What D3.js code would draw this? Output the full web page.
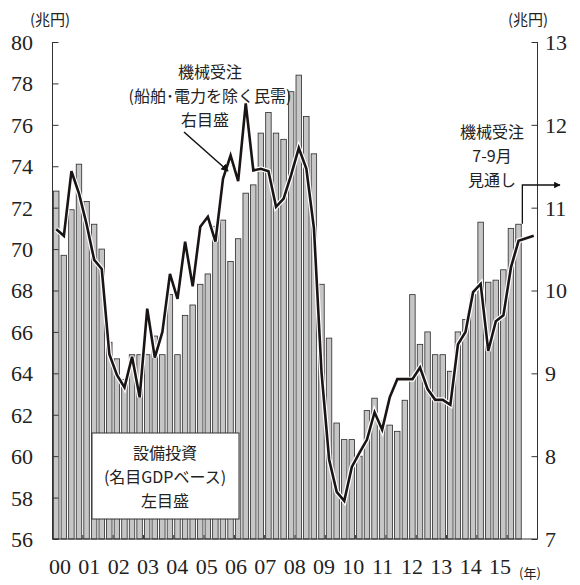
<!DOCTYPE html>
<html>
<head>
<meta charset="utf-8">
<script src="https://cdn.jsdelivr.net/npm/d3@7"></script>
<style>
  body { margin: 0; background: #fff; }
  svg text { fill: #222; }
  .num { font-family: "Liberation Serif", "Tinos", "Times New Roman", "DejaVu Serif", serif; }
  .jp { font-family: "Noto Sans CJK JP", "Noto Sans", sans-serif; }
</style>
</head>
<body>
<div id="chart"></div>
<script>
const yearLabels = ["00", "01", "02", "03", "04", "05", "06", "07", "08", "09", "10", "11", "12", "13", "14", "15"];

// 設備投資 (名目GDPベース), 兆円, 2000Q1 - 2015Q2, left axis
const capex = [
    72.8, 69.7, 71.9, 74.1,
    72.3, 71.2, 70.0, 65.5,
    64.7, 63.7, 64.9, 64.9,
    64.9, 65.8, 64.9, 67.8,
    64.9, 66.8, 67.3, 68.3,
    68.8, 71.1, 71.4, 69.4,
    70.5, 72.7, 73.1, 75.6,
    76.6, 75.6, 75.3, 77.6,
    78.4, 76.4, 74.6, 68.3,
    65.7, 61.6, 60.8, 60.8,
    60.0, 62.2, 62.8, 61.7,
    61.5, 61.2, 62.7, 67.8,
    65.4, 66.0, 64.9, 64.9,
    64.1, 66.0, 66.6, 67.8,
    71.3, 68.4, 68.5, 69.0,
    71.0, 71.2
];

// 機械受注 (船舶・電力を除く民需), 兆円, 2000Q1 - 2015Q3 (last = 7-9月見通し), right axis
const orders = [
    10.74, 10.66, 11.44, 11.17,
    10.80, 10.37, 10.26, 9.23,
    8.98, 8.83, 9.20, 8.71,
    9.78, 9.19, 9.50, 10.20,
    9.90, 10.59, 10.05, 10.77,
    10.89, 10.59, 11.35, 11.63,
    11.32, 12.26, 11.45, 11.47,
    11.44, 11.01, 11.11, 11.40,
    11.72, 11.47, 10.75, 9.01,
    7.96, 7.57, 7.46, 7.87,
    8.04, 8.20, 8.53, 8.32,
    8.71, 8.93, 8.93, 8.93,
    9.07, 8.81, 8.68, 8.68,
    8.62, 9.35, 9.50, 9.98,
    10.08, 9.27, 9.63, 9.70,
    10.28, 10.60, 10.66
];

const leftTicks = d3.range(56, 81, 2);
const rightTicks = d3.range(7, 14, 1);

const width = 580, height = 585;
const margin = { top: 42, right: 42.5, bottom: 46, left: 52.5 };

const svg = d3.select("#chart").append("svg")
    .attr("width", width)
    .attr("height", height);

const nQuarters = yearLabels.length * 4;
const x = d3.scaleLinear()
    .domain([0, nQuarters])
    .range([margin.left, width - margin.right]);
const step = x(1) - x(0);

const yL = d3.scaleLinear().domain([56, 80]).range([height - margin.bottom, margin.top]);
const yR = d3.scaleLinear().domain([7, 13]).range([height - margin.bottom, margin.top]);

// bars
svg.append("g").selectAll("rect")
    .data(capex)
    .enter()
    .append("rect")
    .attr("x", (d, i) => x(i) + 1)
    .attr("y", d => yL(d))
    .attr("width", step - 2.1)
    .attr("height", d => yL(56) - yL(d))
    .attr("fill", "#c6c6c6")
    .attr("stroke", "#2a2a2a")
    .attr("stroke-width", 0.8);

// left axis
const axL = svg.append("g")
    .attr("transform", `translate(${margin.left},0)`)
    .call(d3.axisRight(yL).tickValues(leftTicks).tickSize(6).tickFormat(""));
axL.selectAll("line").attr("stroke", "#333").attr("stroke-width", 1);
axL.select(".domain").attr("stroke", "#333").attr("d", `M0,${yL(80)}V${yL(56)}`);

svg.append("g").selectAll("text")
    .data(leftTicks)
    .enter()
    .append("text")
    .attr("class", "num")
    .attr("x", 33)
    .attr("y", d => yL(d))
    .attr("dy", "0.36em")
    .attr("text-anchor", "end")
    .attr("font-size", 22)
    .text(d => d);

// right axis
const axR = svg.append("g")
    .attr("transform", `translate(${width - margin.right},0)`)
    .call(d3.axisLeft(yR).tickValues(rightTicks).tickSize(6).tickFormat(""));
axR.selectAll("line").attr("stroke", "#333").attr("stroke-width", 1);
axR.select(".domain").attr("stroke", "#333").attr("d", `M0,${yR(13)}V${yR(7)}`);

svg.append("g").selectAll("text")
    .data(rightTicks)
    .enter()
    .append("text")
    .attr("class", "num")
    .attr("x", 545)
    .attr("y", d => yR(d))
    .attr("dy", "0.36em")
    .attr("text-anchor", "start")
    .attr("font-size", 22)
    .text(d => d);

// bottom axis line + year ticks
svg.append("line")
    .attr("x1", x(0)).attr("x2", x(nQuarters))
    .attr("y1", yL(56)).attr("y2", yL(56))
    .attr("stroke", "#333").attr("stroke-width", 1.2);

svg.append("g").selectAll("line")
    .data(d3.range(1, yearLabels.length))
    .enter()
    .append("line")
    .attr("x1", d => x(d * 4)).attr("x2", d => x(d * 4))
    .attr("y1", yL(56)).attr("y2", yL(56) - 4)
    .attr("stroke", "#333").attr("stroke-width", 1);

// year labels
const xLab = d3.scalePoint().domain(yearLabels).range([60, 500]);
svg.append("g").selectAll("text")
    .data(yearLabels)
    .enter()
    .append("text")
    .attr("class", "num")
    .attr("x", d => xLab(d))
    .attr("y", 574)
    .attr("text-anchor", "middle")
    .attr("font-size", 22)
    .text(d => d);

svg.append("text")
    .attr("class", "jp")
    .attr("x", 530).attr("y", 578)
    .attr("text-anchor", "middle")
    .attr("font-size", 13)
    .text("(年)");

// unit labels
svg.append("text")
    .attr("class", "jp")
    .attr("x", 50).attr("y", 25)
    .attr("text-anchor", "middle")
    .attr("font-size", 15)
    .text("(兆円)");
svg.append("text")
    .attr("class", "jp")
    .attr("x", 528).attr("y", 25)
    .attr("text-anchor", "middle")
    .attr("font-size", 15)
    .text("(兆円)");

// line: actual points at quarter centres, forecast at the end of the axis
const lastIdx = orders.length - 1;
const lineX = i => i < lastIdx ? x(i + 0.5) : x(i + 1.5);
const line = d3.line()
    .x((d, i) => lineX(i))
    .y(d => yR(d));

svg.append("path")
    .datum(orders)
    .attr("d", line)
    .attr("fill", "none")
    .attr("stroke", "#fff")
    .attr("stroke-width", 5)
    .attr("stroke-linejoin", "miter");

svg.append("path")
    .datum(orders)
    .attr("d", line)
    .attr("fill", "none")
    .attr("stroke", "#1a1414")
    .attr("stroke-width", 2.6)
    .attr("stroke-linejoin", "miter");

// legend box for bars
svg.append("rect")
    .attr("x", 92).attr("y", 433)
    .attr("width", 147).attr("height", 86)
    .attr("fill", "#fff")
    .attr("stroke", "#333")
    .attr("stroke-width", 1);

const boxText = ["設備投資", "(名目GDPベース)", "左目盛"];
svg.append("g").selectAll("text")
    .data(boxText)
    .enter()
    .append("text")
    .attr("class", "jp")
    .attr("x", 165)
    .attr("y", (d, i) => 459 + i * 24)
    .attr("text-anchor", "middle")
    .attr("font-size", 16)
    .text(d => d);

// annotation for line
const lineText = ["機械受注", "(船舶･電力を除く民需)", "右目盛"];
svg.append("g").selectAll("text")
    .data(lineText)
    .enter()
    .append("text")
    .attr("class", "jp")
    .attr("x", (d, i) => i === 2 ? 205 : 210)
    .attr("y", (d, i) => 78 + i * 24)
    .attr("text-anchor", "middle")
    .attr("font-size", 16)
    .text(d => d);

const defs = svg.append("defs");
defs.append("marker")
    .attr("id", "arrow")
    .attr("viewBox", "0 0 10 10")
    .attr("refX", 9).attr("refY", 5)
    .attr("markerWidth", 5).attr("markerHeight", 5)
    .attr("orient", "auto")
    .append("path")
    .attr("d", "M0,0L10,5L0,10Z")
    .attr("fill", "#111");

svg.append("line")
    .attr("x1", 184).attr("y1", 132)
    .attr("x2", 228).attr("y2", 171)
    .attr("stroke", "#111")
    .attr("stroke-width", 1.5)
    .attr("marker-end", "url(#arrow)");

// forecast annotation
const fcText = ["機械受注", "7-9月", "見通し"];
svg.append("g").selectAll("text")
    .data(fcText)
    .enter()
    .append("text")
    .attr("class", "jp")
    .attr("x", 492)
    .attr("y", (d, i) => 138 + i * 24)
    .attr("text-anchor", "middle")
    .attr("font-size", 16)
    .text(d => d);

const fcX = x(lastIdx);
svg.append("path")
    .attr("d", `M${fcX},${yR(orders[lastIdx]) - 12}V185H560`)
    .attr("fill", "none")
    .attr("stroke", "#111")
    .attr("stroke-width", 1.3)
    .attr("marker-end", "url(#arrow)");
</script>
</body>
</html>
